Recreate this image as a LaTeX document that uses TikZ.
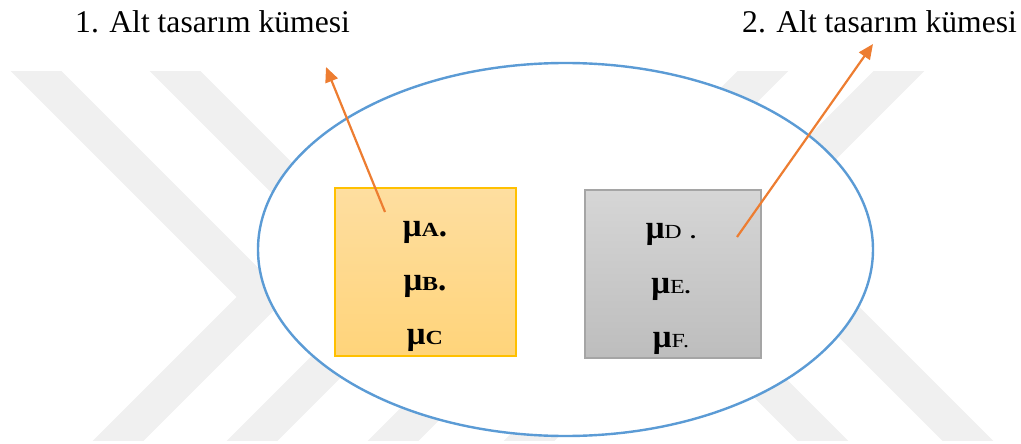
\documentclass[tikz,border=0pt]{standalone}
\usepackage{fontspec}
\usepackage{graphicx}
\setmainfont{Liberation Serif}
\usetikzlibrary{arrows.meta,shapes.geometric}
\definecolor{ellblue}{HTML}{5B9BD5}
\definecolor{arrorange}{HTML}{ED7D31}
\definecolor{goldtop}{HTML}{FEDEA0}
\definecolor{goldbot}{HTML}{FFD47A}
\definecolor{goldline}{HTML}{FFC000}
\definecolor{graytop}{HTML}{D6D6D6}
\definecolor{graybot}{HTML}{BDBDBD}
\definecolor{grayline}{HTML}{A5A5A5}
\definecolor{wmgray}{HTML}{F0F0F0}
\newcommand{\sublet}[1]{\scalebox{1.2}[1]{\fontsize{20}{20}\selectfont #1}}
\begin{document}
\begin{tikzpicture}[x=1pt,y=-1pt,
  title/.style={font=\fontsize{31.6}{36}\selectfont, anchor=base west, inner sep=0pt},
  wmband/.style={draw=wmgray, line width=36pt, line join=miter, line cap=butt},
  setellipse/.style={draw=ellblue, line width=2.4pt, fill=white},
  goldbox/.style={draw=goldline, line width=1.4pt, top color=goldtop, bottom color=goldbot, minimum width=181pt, minimum height=168pt, inner sep=0pt},
  graybox/.style={draw=grayline, line width=1.4pt, top color=graytop, bottom color=graybot, minimum width=176pt, minimum height=168pt, inner sep=0pt},
  mulabel/.style={font=\fontsize{33}{33}\selectfont, anchor=base, inner sep=0pt},
  pointer/.style={draw=arrorange, line width=2.2pt, -{Triangle[length=15pt,width=13pt]}}
]
\useasboundingbox (0,0) rectangle (1021,444);
% faint watermark
\begin{scope}
  \clip (0,72) rectangle (1021,440);
  \draw[wmband] (17,52) -- (262,297) -- (98,461);
  \draw[wmband] (156,52) -- (398.5,294.5) -- (233,460);
  \draw[wmband] (782,52) -- (372,462);
  \draw[wmband] (918,52) -- (508,462);
  \draw[wmband] (608,226) -- (842,460);
  \draw[wmband] (749,222) -- (987,460);
\end{scope}
% ellipse
\node[setellipse, ellipse, minimum width=615pt, minimum height=373pt, inner sep=0pt] (universe) at (565.5,249.5) {};
% boxes
\node[goldbox] (setone) at (425.5,272) {};
\node[graybox] (settwo) at (673,274) {};
% labels
\node[mulabel] (muA) at (425,236) {\bfseries μ\sublet{A}.};
\node[mulabel] (muB) at (425,290) {\bfseries μ\sublet{B}.};
\node[mulabel] (muC) at (425,344) {\bfseries μ\sublet{C}};
\node[mulabel] (muD) at (671,238) {\textbf{μ}\sublet{D\hspace{7pt}\textbf{.}}};
\node[mulabel] (muE) at (671,293) {\textbf{μ}\sublet{E\textbf{.}}};
\node[mulabel] (muF) at (671,347) {\textbf{μ}\sublet{F.}};
% titles
\node[title] (titleone) at (75,33) {1. Alt tasarım kümesi};
\node[title] (titletwo) at (742,33) {2. Alt tasarım kümesi};
% arrows
\coordinate (startone) at (385,212);
\coordinate (tipone) at (326,67);
\coordinate (starttwo) at (737,237);
\coordinate (tiptwo) at (873,44);
\draw[pointer] (startone) -- (tipone);
\draw[pointer] (starttwo) -- (tiptwo);
\end{tikzpicture}
\end{document}
